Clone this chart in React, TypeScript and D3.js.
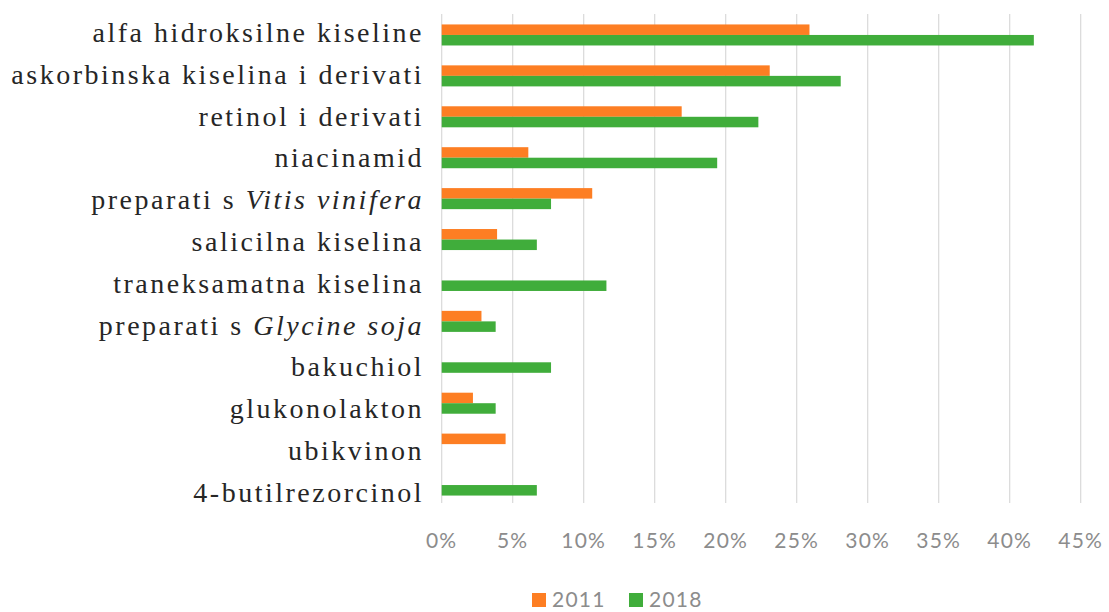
import React from "react";
import { scaleBand, scaleLinear, range } from "d3";

// categories, top to bottom
const categories: { text: string; italic?: string }[] = [
  { text: "alfa hidroksilne kiseline" },
  { text: "askorbinska kiselina i derivati" },
  { text: "retinol i derivati" },
  { text: "niacinamid" },
  { text: "preparati s ", italic: "Vitis vinifera" },
  { text: "salicilna kiselina" },
  { text: "traneksamatna kiselina" },
  { text: "preparati s ", italic: "Glycine soja" },
  { text: "bakuchiol" },
  { text: "glukonolakton" },
  { text: "ubikvinon" },
  { text: "4-butilrezorcinol" },
];

// shares in %
const values2011 = [25.9, 23.1, 16.9, 6.1, 10.6, 3.9, 0, 2.8, 0, 2.2, 4.5, 0];
const values2018 = [41.7, 28.1, 22.3, 19.4, 7.7, 6.7, 11.6, 3.8, 7.7, 3.8, 0, 6.7];

const ticks = range(0, 50, 5);
const seriesNames = ["2011", "2018"];
const colors = ["#fd7e23", "#40ad3b"];

const W = 1109;
const H = 612;

export default function App() {
  const x = scaleLinear().domain([0, 45]).range([441.7, 1080.7]);
  const y = scaleBand<number>()
    .domain(categories.map((_, i) => i))
    .range([14.5, 505.5])
    .paddingInner(0.486)
    .paddingOuter(0.243);
  const inner = scaleBand<number>().domain([0, 1]).range([0, y.bandwidth()]);
  const series = [values2011, values2018];

  return (
    <svg
      width={W}
      height={H}
      viewBox={`0 0 ${W} ${H}`}
      style={{ position: "absolute", left: 0, top: 0, background: "#fff" }}
    >
      {/* grid */}
      <g>
        {ticks.map((t) => (
          <line
            key={t}
            x1={x(t)}
            x2={x(t)}
            y1={14}
            y2={503}
            stroke="#d9d9d9"
            strokeWidth={1.2}
          />
        ))}
      </g>

      {/* bars */}
      {series.map((vals, s) => (
        <g key={s} fill={colors[s]}>
          {vals.map((v, i) =>
            v > 0 ? (
              <rect
                key={i}
                x={x(0)}
                y={y(i)! + inner(s)!}
                width={x(v) - x(0)}
                height={inner.bandwidth()}
              />
            ) : null
          )}
        </g>
      ))}

      {/* category labels (text rows sit a touch looser than the bars) */}
      <g
        fontFamily="'Liberation Serif', 'DejaVu Serif', serif"
        fontSize={28}
        fill="#262626"
        textAnchor="end"
        letterSpacing={2.5}
      >
        {categories.map((c, i) => (
          <text key={i} x={424} y={y(i)! + y.bandwidth() / 2 + 7 + i * 0.9}>
            {c.text}
            {c.italic && <tspan fontStyle="italic">{c.italic}</tspan>}
          </text>
        ))}
      </g>

      {/* x tick labels */}
      <g
        fontFamily="Lato, 'Open Sans', sans-serif"
        fontSize={21}
        letterSpacing={1.2}
        fill="#8c8c8c"
        textAnchor="middle"
      >
        {ticks.map((t) => (
          <text key={t} x={x(t)} y={541} dy="0.35em">
            {t}%
          </text>
        ))}
      </g>

      {/* legend */}
      <g fontFamily="Lato, 'Open Sans', sans-serif" fontSize={21} letterSpacing={1.2} fill="#8c8c8c">
        {seriesNames.map((name, s) => {
          const lx = 532 + s * 97;
          return (
            <g key={name}>
              <rect x={lx} y={593} width={14} height={14} fill={colors[s]} />
              <text x={lx + 20} y={600} dy="0.35em">
                {name}
              </text>
            </g>
          );
        })}
      </g>
    </svg>
  );
}
